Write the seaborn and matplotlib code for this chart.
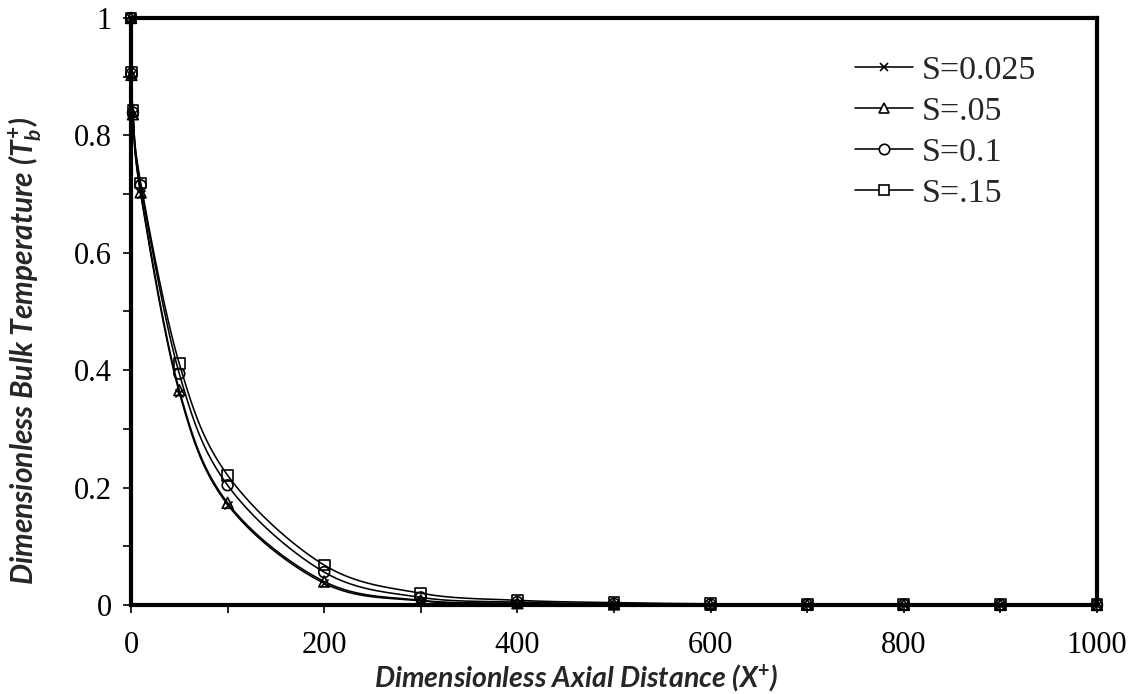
import numpy as np
import pandas as pd
import matplotlib
matplotlib.use("Agg")
import matplotlib.pyplot as plt
from matplotlib.lines import Line2D
from matplotlib.ticker import MultipleLocator
import seaborn as sns

# ---- data ----
x_vals = [0, 0.5, 2, 10, 50, 100, 200, 300, 400, 500, 600, 700, 800, 900, 1000]
s0025 = [1.0, 0.903, 0.836, 0.700, 0.362, 0.171, 0.037, 0.007, 0.002, 0.001, 0.0005, 0.0003, 0.0002, 0.0001, 0.0]
s005 = [1.0, 0.903, 0.836, 0.703, 0.366, 0.174, 0.040, 0.008, 0.003, 0.001, 0.0005, 0.0003, 0.0002, 0.0001, 0.0]
s01 = [1.0, 0.905, 0.839, 0.715, 0.394, 0.204, 0.056, 0.013, 0.005, 0.002, 0.001, 0.0006, 0.0004, 0.0003, 0.0002]
s015 = [1.0, 0.908, 0.842, 0.719, 0.411, 0.221, 0.068, 0.020, 0.008, 0.004, 0.002, 0.001, 0.0008, 0.0005, 0.0003]
labels = ["S=0.025", "S=.05", "S=0.1", "S=.15"]
markers = ["x", "^", "o", "s"]
series = [s0025, s005, s01, s015]
x_ticks = [0, 200, 400, 600, 800, 1000]
y_ticks = [0, 0.2, 0.4, 0.6, 0.8, 1.0]
y_ticklabels = ["0", "0.2", "0.4", "0.6", "0.8", "1"]

sns.set_style("white")
plt.rcParams["font.family"] = ["Liberation Serif", "DejaVu Serif"]
plt.rcParams["mathtext.fontset"] = "custom"
plt.rcParams["mathtext.it"] = "Lato:bold:italic"
plt.rcParams["mathtext.rm"] = "Lato:bold"
plt.rcParams["mathtext.bf"] = "Lato:bold"

W, H = 1139, 694
fig = plt.figure(figsize=(W / 100, H / 100), dpi=100)
x0p, x1p, y0p, y1p = 131, 1097, 605, 18
ax = fig.add_axes([x0p / W, 1 - y0p / H, (x1p - x0p) / W, (y0p - y1p) / H])

sx, sy = (x1p - x0p) / 1000.0, float(y0p - y1p)


def smooth(xs, ys, n=30):
    """Excel-style smoothed line (Bezier with Catmull-Rom control points)."""
    P = np.column_stack([np.asarray(xs) * sx, np.asarray(ys) * sy])
    out = []
    m = len(P)
    for i in range(m - 1):
        p0 = P[i - 1] if i > 0 else P[i]
        p1, p2 = P[i], P[i + 1]
        p3 = P[i + 2] if i + 2 < m else P[i + 1]
        c1 = p1 + (p2 - p0) / 6.0
        c2 = p2 - (p3 - p1) / 6.0
        t = np.linspace(0, 1, n)[:, None]
        seg = ((1 - t) ** 3) * p1 + 3 * ((1 - t) ** 2) * t * c1 + 3 * (1 - t) * t ** 2 * c2 + t ** 3 * p2
        out.append(seg if i == 0 else seg[1:])
    out = np.vstack(out)
    return out[:, 0] / sx, out[:, 1] / sy


LW = 1.15
for lab, mk, ys in zip(labels, markers, series):
    cx, cy = smooth(x_vals, ys)
    sns.lineplot(x=cx, y=cy, ax=ax, color="black", linewidth=LW, sort=False, estimator=None)
    df = pd.DataFrame({"x": x_vals, "y": ys})
    if mk == "x":
        sns.scatterplot(data=df, x="x", y="y", ax=ax, marker="x", s=34, color="black", linewidth=1.2, zorder=4)
    else:
        sns.scatterplot(data=df, x="x", y="y", ax=ax, marker=mk, s=60, facecolor="none",
                        edgecolor="black", linewidth=1.2, zorder=4)
for coll in ax.collections:
    coll.set_clip_on(False)

# legend
handles = []
for lab, mk in zip(labels, markers):
    if mk == "x":
        h = Line2D([], [], color="black", lw=LW, marker="x", markersize=6, mew=1.2)
    else:
        h = Line2D([], [], color="black", lw=LW, marker=mk, markersize=7.5, mfc="white", mec="black", mew=1.2)
    handles.append(h)
LEGFS = 24.5
leg = ax.legend(handles, labels, loc="upper left",
                bbox_to_anchor=((855 - x0p) / (x1p - x0p), (y0p - 55) / (y0p - y1p)),
                frameon=False, handlelength=1.7, handletextpad=0.26, labelspacing=0.3,
                borderpad=0, borderaxespad=0, prop={"family": "Liberation Serif", "size": LEGFS})

ax.set_xlim(0, 1000)
ax.set_ylim(0, 1.0)
ax.set_xticks(x_ticks)
ax.set_xticklabels([str(v) for v in x_ticks])
ax.set_yticks(y_ticks)
ax.set_yticklabels(y_ticklabels)
ax.xaxis.set_minor_locator(MultipleLocator(100))
ax.yaxis.set_minor_locator(MultipleLocator(0.1))
ax.tick_params(axis="both", which="both", direction="out", length=6, width=1.2,
               colors="black", bottom=True, left=True)
ax.tick_params(axis="both", which="major", labelsize=22)
ax.tick_params(axis="x", which="major", pad=13)
ax.tick_params(axis="y", which="major", pad=8)
for sp in ax.spines.values():
    sp.set_visible(True)
    sp.set_color("black")
    sp.set_linewidth(3)
    sp.set_zorder(5)

xl = ax.set_xlabel(r"Dimensionless Axial Distance (X$^{+}$)", fontsize=17, fontweight="bold",
                   fontstyle="italic", family="Lato")
yl = ax.set_ylabel(r"Dimensionless Bulk Temperature ($T_{b}^{+}$)", fontsize=17, fontweight="bold",
                   fontstyle="italic", family="Lato")
ax.grid(False)

# fit label sizes to the reference text widths
fig.canvas.draw()
r = fig.canvas.get_renderer()
for t, target, horiz in [(xl, 405, True), (yl, 470, False)]:
    bb = t.get_window_extent(r)
    cur = bb.width if horiz else bb.height
    t.set_fontsize(t.get_fontsize() * target / cur)
ax.xaxis.label.set_va("center")
ax.xaxis.set_label_coords((576 - x0p) / (x1p - x0p), -(678 - y0p) / (y0p - y1p))
ax.yaxis.set_label_coords(-(x0p - 25) / (x1p - x0p), (y0p - 351) / (y0p - y1p))
ax.yaxis.label.set_va("center")

fig.savefig("out.png", dpi=100)
